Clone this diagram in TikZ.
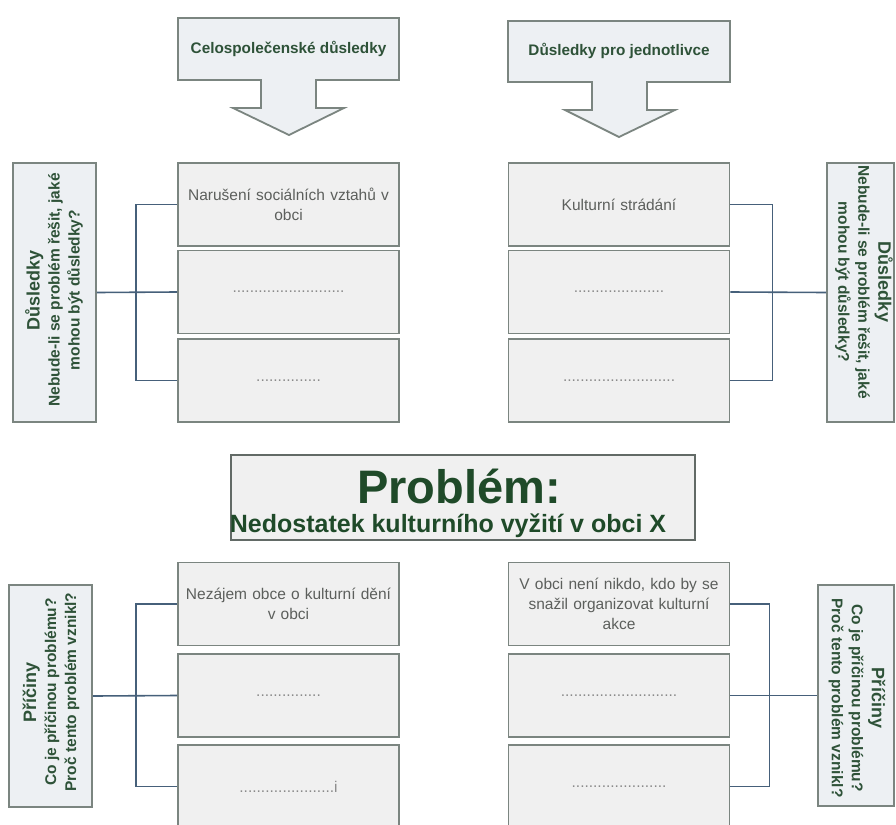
\documentclass[tikz,border=0pt]{standalone}
\usepackage{fontspec}
\setmainfont{Liberation Sans}
\hyphenpenalty=10000
\exhyphenpenalty=10000
\definecolor{cellfill}{HTML}{F0F0F0}
\definecolor{cellline}{HTML}{7B8580}
\definecolor{tagfill}{HTML}{EDF0F3}
\definecolor{headgreen}{HTML}{2E5238}
\definecolor{darkgreen}{HTML}{1F4A29}
\definecolor{bodytext}{HTML}{5C5F5C}
\definecolor{dotgray}{HTML}{8A8A8A}
\definecolor{wire}{HTML}{46607A}
\begin{document}
\begin{tikzpicture}[x=1pt,y=-1pt,
  cell/.style={draw=cellline, line width=1.8pt, fill=cellfill, minimum width=221pt,
    minimum height=83pt, inner sep=0pt, text width=221pt, align=center,
    text=bodytext, font=\fontsize{15.5}{20}\selectfont},
  dotcell/.style={cell, text=dotgray},
  tagbox/.style={draw=cellline, line width=1.8pt, fill=tagfill, inner sep=0pt},
  tagtext/.style={align=center, text=headgreen, inner sep=0pt,
    font=\fontsize{15.5}{20}\selectfont\bfseries},
  calltext/.style={text=headgreen, inner sep=0pt, font=\fontsize{15.3}{18}\selectfont\bfseries},
  callshape/.style={draw=cellline, line width=1.8pt, fill=tagfill, line join=miter},
  conn/.style={draw=wire, line width=1.6pt},
  bigtitle/.style={text=darkgreen, inner sep=0pt, anchor=base, font=\fontsize{47}{50}\selectfont\bfseries},
  subtitle/.style={text=darkgreen, inner sep=0pt, anchor=base, font=\fontsize{25}{28}\selectfont\bfseries}
]
\useasboundingbox (0,0) rectangle (896,824);
\fill[white] (0,0) rectangle (896,824);
\clip (0,0) rectangle (896,824);

% downward block arrows with their headings
\draw[callshape] (178,18) -- (399,18) -- (399,80) -- (316,80) -- (316,108) -- (344,108)
  -- (289,135) -- (233,108) -- (261,108) -- (261,80) -- (178,80) -- cycle;
\node[calltext] (headL) at (288.5,49) {Celospolečenské důsledky};
\draw[callshape] (508,21) -- (730,21) -- (730,82) -- (647,82) -- (647,110) -- (675,110)
  -- (619,137) -- (565,110) -- (592,110) -- (592,82) -- (508,82) -- cycle;
\node[calltext] (headR) at (619,51) {Důsledky pro jednotlivce};

% consequences, left column
\node[cell] (tl1) at (288.5,204.5) {Narušení sociálních vztahů v\\obci};
\node[dotcell] (tl2) at (288.5,292) {..........................};
\node[dotcell] (tl3) at (288.5,380.5) {...............};

% consequences, right column
\node[cell] (tr1) at (619,204.5) {Kulturní strádání};
\node[dotcell] (tr2) at (619,292) {.....................};
\node[dotcell] (tr3) at (619,380.5) {..........................};

% causes, left column
\node[cell] (bl1) at (288.5,604) {Nezájem obce o kulturní dění\\v obci};
\node[dotcell] (bl2) at (288.5,695.5) {...............};
\node[dotcell] (bl3) at (288.5,786.5) {......................i};

% causes, right column
\node[cell] (br1) at (619,604) {V obci není nikdo, kdo by se\\snažil organizovat kulturní\\akce};
\node[dotcell] (br2) at (619,695.5) {...........................};
\node[dotcell] (br3) at (619,786.5) {......................};

% side tags
\node[tagbox, minimum width=83pt, minimum height=259pt] (tagTL) at (54.5,292.5) {};
\node[tagtext, rotate=90] (tagTLt) at (54,290)
  {{\fontsize{18}{20}\selectfont Důsledky}\\Nebude-li se problém řešit, jaké\\mohou být důsledky?};
\node[tagbox, minimum width=67pt, minimum height=259pt] (tagTR) at (860.5,292.5) {};
\node[tagtext, rotate=-90] (tagTRt) at (864,282)
  {{\fontsize{18}{20}\selectfont Důsledky}\\Nebude-li se problém řešit, jaké\\mohou být důsledky?};
\node[tagbox, minimum width=83pt, minimum height=222pt] (tagBL) at (50.5,696) {};
\node[tagtext, rotate=90] (tagBLt) at (51,692)
  {{\fontsize{18}{20}\selectfont Příčiny}\\Co je příčinou problému?\\Proč tento problém vznikl?};
\node[tagbox, minimum width=76pt, minimum height=221pt] (tagBR) at (856,695.5) {};
\node[tagtext, rotate=-90] (tagBRt) at (857,698)
  {{\fontsize{18}{20}\selectfont Příčiny}\\Co je příčinou problému?\\Proč tento problém vznikl?};

% central problem statement
\node[draw=cellline!80!black, line width=1.5pt, fill=cellfill, minimum width=464pt,
  minimum height=85pt, inner sep=0pt] (prob) at (463,497.5) {};
\node[bigtitle] (probT) at (459,503) {Problém:};
\node[subtitle] (probS) at (448,532) {Nedostatek kulturního vyžití v obci X};

% brackets joining tags to their boxes
\draw[conn] (tl1.west) -- ++(-41,0) |- (tl3.west);
\draw[conn] (tagTL.east) -- (tl2.west);
\draw[conn] (tr1.east) -- ++(42,0) |- (tr3.east);
\draw[conn] (tr2.east) -- (tagTR.west);
\draw[conn] (bl1.west) -- ++(-41,0) |- (bl3.west);
\draw[conn] (tagBL.east) -- (bl2.west);
\draw[conn] (br1.east) -- ++(39,0) |- (br3.east);
\draw[conn] (br2.east) -- (tagBR.west);
\end{tikzpicture}
\end{document}
